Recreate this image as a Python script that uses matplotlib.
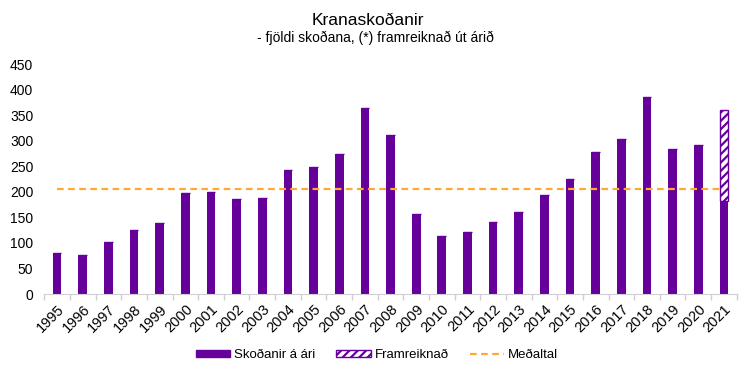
import matplotlib.pyplot as plt
import numpy as np
from matplotlib.patches import Patch
from matplotlib.lines import Line2D

years = [str(y) for y in range(1995, 2022)]
inspections = [80, 76, 102, 125, 139, 198, 200, 186, 188, 243, 248, 274, 364, 311,
               157, 114, 121, 141, 160, 194, 225, 278, 303, 385, 284, 291, 183]
projected_extra = [0] * 26 + [178]
average = 206

purple = '#66009A'
orange = '#FFA833'

plt.rcParams['font.family'] = ['Liberation Sans', 'DejaVu Sans']
plt.rcParams['hatch.linewidth'] = 1.6
plt.rcParams['hatch.color'] = purple

fig = plt.figure(figsize=(7.51, 3.75), dpi=100)
ax = fig.add_axes([0.059, 0.216, 0.922, 0.613])

x = np.arange(len(years))
ax.bar(x, inspections, width=0.34, color=purple)
ax.bar(x, projected_extra, width=0.34, bottom=inspections,
       facecolor='white', edgecolor=purple, hatch='////', linewidth=1)
ax.plot([x[0], x[-1]], [average, average], color=orange, linestyle='--',
        linewidth=1.6, dashes=(3, 2))

ax.set_xlim(-0.5, len(years) - 0.5)
ax.set_ylim(0, 450)
ax.set_yticks(range(0, 451, 50))
ax.set_xticks(x)
ax.set_xticklabels(years, rotation=45, ha='right', rotation_mode='anchor', fontsize=10.5)
ax.set_xticks(np.arange(-0.5, len(years)), minor=True)
ax.tick_params(axis='x', which='major', length=0, pad=6)
ax.tick_params(axis='x', which='minor', length=4, color='#D0D0D0', width=1)
ax.tick_params(axis='y', length=0, labelsize=10, pad=8)

for s in ['top', 'right', 'left']:
    ax.spines[s].set_visible(False)
ax.spines['bottom'].set_color('#D0D0D0')

fig.text(0.49, 0.945, 'Kranaskoðanir', ha='center', va='center', fontsize=12.5)
fig.text(0.5, 0.898, '- fjöldi skoðana, (*) framreiknað út árið', ha='center',
         va='center', fontsize=10)

handles = [
    Patch(facecolor=purple, edgecolor=purple),
    Patch(facecolor='white', edgecolor=purple, hatch='////'),
    Line2D([0], [0], color=orange, linestyle='--', linewidth=1.6, dashes=(3, 2)),
]
labels = ['Skoðanir á ári', 'Framreiknað', 'Meðaltal']
fig.legend(handles, labels, loc='center', bbox_to_anchor=(0.502, 0.052), ncol=3,
           frameon=False, fontsize=9.5, handlelength=2.6, handleheight=0.45,
           handletextpad=0.3, columnspacing=1.6)

fig.savefig('out.png', dpi=100)
